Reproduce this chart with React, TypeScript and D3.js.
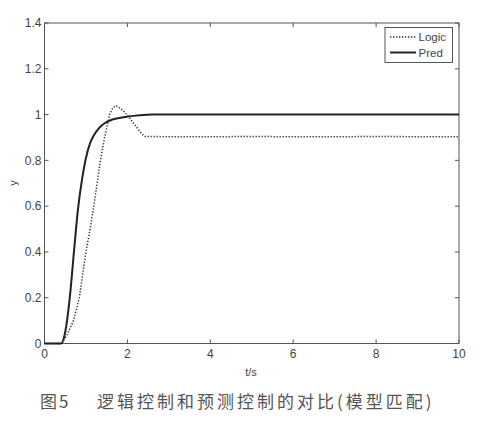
import React, { useEffect, useRef } from 'react'
import * as d3 from 'd3'

// values
const PRED_T = [0, 0.4, 0.5, 0.61, 0.71, 0.81, 0.9, 1.0, 1.1, 1.2, 1.31, 1.45, 1.55, 1.8, 2.0, 2.3, 2.6, 10]
const PRED_Y = [0, 0, 0.05, 0.2, 0.4, 0.59, 0.71, 0.81, 0.875, 0.912, 0.94, 0.962, 0.972, 0.985, 0.991, 0.997, 1.0, 1.0]

const LOGIC_T = [0, 0.42, 0.55, 0.7, 0.84, 1.0, 1.1, 1.19, 1.27, 1.35, 1.45, 1.57, 1.65, 1.73, 1.85, 1.99, 2.2, 2.35, 2.43, 3.5, 5, 6.5, 8, 10]
const LOGIC_Y = [0, 0, 0.04, 0.1, 0.2, 0.4, 0.5, 0.6, 0.7, 0.8, 0.9, 1.0, 1.03, 1.039, 1.025, 1.0, 0.95, 0.915, 0.904, 0.903, 0.904, 0.903, 0.904, 0.903]

const X_TICKS = [0, 2, 4, 6, 8, 10]
const Y_TICKS = [0, 0.2, 0.4, 0.6, 0.8, 1, 1.2, 1.4]
const LEGEND = ['Logic', 'Pred']
const CAPTION_NUM = '图5'
const CAPTION = '逻辑控制和预测控制的对比(模型匹配)'

export default function App() {
  const svgRef = useRef<SVGSVGElement>(null)

  useEffect(() => {
    if (!svgRef.current) return
    const svg = d3.select(svgRef.current)
    svg.selectAll('*').remove()

    const left = 44.5, right = 459, top = 23, bottom = 343.5
    const x = d3.scaleLinear().domain([0, 10]).range([left, right])
    const y = d3.scaleLinear().domain([0, 1.4]).range([bottom, top])
    const font = 'Liberation Sans, Arial, sans-serif'
    const axisColor = '#555'
    const textColor = '#444'

    svg.append('rect').attr('width', 494).attr('height', 437).attr('fill', '#fff')

    // plot box
    svg.append('rect')
      .attr('x', left).attr('y', top)
      .attr('width', right - left).attr('height', bottom - top)
      .attr('fill', 'none').attr('stroke', axisColor).attr('stroke-width', 1)

    const tk = 4
    X_TICKS.forEach((t) => {
      const px = x(t)
      svg.append('line').attr('x1', px).attr('x2', px).attr('y1', bottom).attr('y2', bottom - tk)
        .attr('stroke', axisColor)
      svg.append('line').attr('x1', px).attr('x2', px).attr('y1', top).attr('y2', top + tk)
        .attr('stroke', axisColor)
      svg.append('text').attr('x', px).attr('y', bottom + 14)
        .attr('text-anchor', 'middle').attr('font-family', font).attr('font-size', 12)
        .attr('fill', textColor).text(String(t))
    })
    Y_TICKS.forEach((v) => {
      const py = y(v)
      svg.append('line').attr('x1', left).attr('x2', left + tk).attr('y1', py).attr('y2', py)
        .attr('stroke', axisColor)
      svg.append('line').attr('x1', right).attr('x2', right - tk).attr('y1', py).attr('y2', py)
        .attr('stroke', axisColor)
      svg.append('text').attr('x', left - 3).attr('y', py).attr('dy', '0.35em')
        .attr('text-anchor', 'end').attr('font-family', font).attr('font-size', 12)
        .attr('fill', textColor).text(String(v))
    })

    svg.append('text').attr('x', 251).attr('y', 376)
      .attr('text-anchor', 'middle').attr('font-family', font).attr('font-size', 11)
      .attr('fill', textColor).text('t/s')
    svg.append('text').attr('transform', 'translate(17,183) rotate(-90)')
      .attr('text-anchor', 'middle').attr('font-family', font).attr('font-size', 11)
      .attr('fill', textColor).text('y')

    const line = d3.line<[number, number]>().x((d) => x(d[0])).y((d) => y(d[1]))
    const logic = LOGIC_T.map((t, i) => [t, LOGIC_Y[i]] as [number, number])
    const pred = PRED_T.map((t, i) => [t, PRED_Y[i]] as [number, number])

    svg.append('path').datum(logic).attr('d', line)
      .attr('fill', 'none').attr('stroke', '#333').attr('stroke-width', 1.5)
      .attr('stroke-dasharray', '1.3,1.7')
    svg.append('path').datum(pred).attr('d', line.curve(d3.curveMonotoneX))
      .attr('fill', 'none').attr('stroke', '#222').attr('stroke-width', 2)

    // legend
    const lg = svg.append('g')
    lg.append('rect').attr('x', 385).attr('y', 27.5).attr('width', 67.5).attr('height', 35)
      .attr('fill', '#fff').attr('stroke', axisColor)
    LEGEND.forEach((name, i) => {
      const ly = 37 + i * 15.5
      lg.append('line').attr('x1', 390).attr('x2', 416).attr('y1', ly).attr('y2', ly)
        .attr('stroke', '#222')
        .attr('stroke-width', i === 0 ? 1.5 : 2)
        .attr('stroke-dasharray', i === 0 ? '1.3,1.7' : null)
      lg.append('text').attr('x', 418.5).attr('y', ly).attr('dy', '0.35em')
        .attr('font-family', font).attr('font-size', 11.5).attr('fill', textColor).text(name)
    })

    // caption
    const cjk = 'Noto Sans CJK SC, sans-serif'
    svg.append('text').attr('x', 40).attr('y', 408)
      .attr('font-family', cjk).attr('font-size', 17).attr('letter-spacing', 2)
      .attr('fill', '#555').text(CAPTION_NUM)
    svg.append('text').attr('x', 97).attr('y', 408)
      .attr('font-family', cjk).attr('font-size', 17).attr('letter-spacing', 3)
      .attr('fill', '#555').text(CAPTION)
  }, [])

  return (
    <svg
      ref={svgRef}
      width={494}
      height={437}
      style={{ position: 'absolute', left: 0, top: 0, display: 'block' }}
    />
  )
}
